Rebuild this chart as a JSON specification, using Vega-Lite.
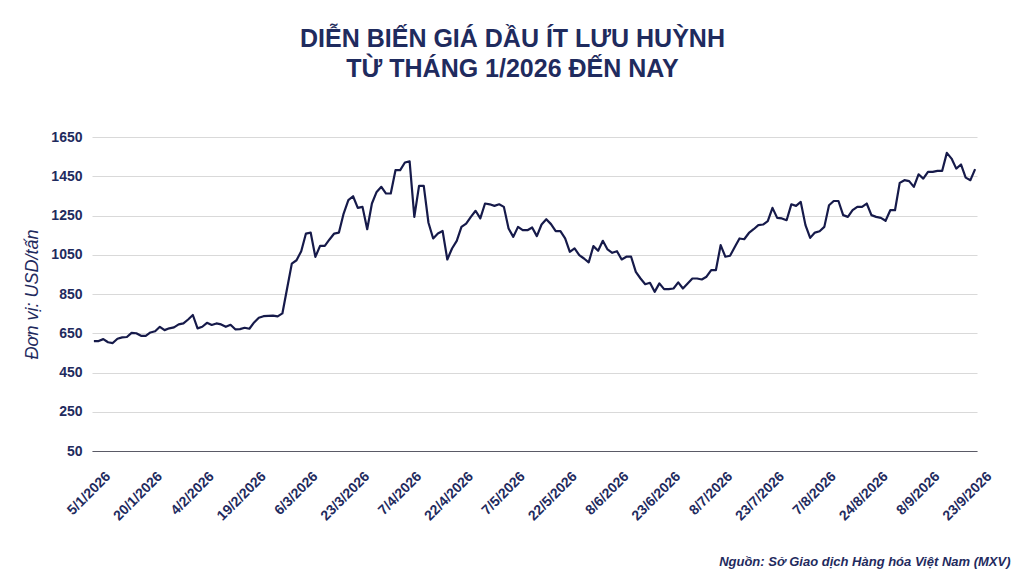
{
  "$schema": "https://vega.github.io/schema/vega-lite/v6.json",
  "autosize": {"type": "none"},
  "padding": {"left": 92, "top": 137, "right": 47, "bottom": 126},
  "width": 885,
  "height": 314,
  "background": "white",
  "title": {
    "text": ["DIỄN BIẾN GIÁ DẦU ÍT LƯU HUỲNH", "TỪ THÁNG 1/2026 ĐẾN NAY"],
    "font": "Liberation Sans",
    "fontSize": 25,
    "fontWeight": "bold",
    "color": "#1f2b5e",
    "lineHeight": 30,
    "anchor": "middle",
    "frame": "group",
    "dx": -22,
    "offset": 48
  },
  "data": {"values": [
    {"ngay": "5/1/2026", "gia": 610}, {"ngay": "6/1/2026", "gia": 610}, {"ngay": "7/1/2026", "gia": 620}, {"ngay": "8/1/2026", "gia": 604}, {"ngay": "9/1/2026", "gia": 600},
    {"ngay": "12/1/2026", "gia": 622}, {"ngay": "13/1/2026", "gia": 629}, {"ngay": "14/1/2026", "gia": 631}, {"ngay": "15/1/2026", "gia": 652}, {"ngay": "16/1/2026", "gia": 650},
    {"ngay": "19/1/2026", "gia": 637}, {"ngay": "20/1/2026", "gia": 637}, {"ngay": "21/1/2026", "gia": 654}, {"ngay": "22/1/2026", "gia": 660}, {"ngay": "23/1/2026", "gia": 683},
    {"ngay": "26/1/2026", "gia": 666}, {"ngay": "27/1/2026", "gia": 675}, {"ngay": "28/1/2026", "gia": 680}, {"ngay": "29/1/2026", "gia": 695}, {"ngay": "30/1/2026", "gia": 700},
    {"ngay": "2/2/2026", "gia": 720}, {"ngay": "3/2/2026", "gia": 743}, {"ngay": "4/2/2026", "gia": 675}, {"ngay": "5/2/2026", "gia": 683}, {"ngay": "6/2/2026", "gia": 703},
    {"ngay": "9/2/2026", "gia": 692}, {"ngay": "10/2/2026", "gia": 700}, {"ngay": "11/2/2026", "gia": 695}, {"ngay": "12/2/2026", "gia": 683}, {"ngay": "13/2/2026", "gia": 693},
    {"ngay": "16/2/2026", "gia": 670}, {"ngay": "17/2/2026", "gia": 671}, {"ngay": "18/2/2026", "gia": 678}, {"ngay": "19/2/2026", "gia": 673}, {"ngay": "20/2/2026", "gia": 705},
    {"ngay": "23/2/2026", "gia": 729}, {"ngay": "24/2/2026", "gia": 737}, {"ngay": "25/2/2026", "gia": 739}, {"ngay": "26/2/2026", "gia": 740}, {"ngay": "27/2/2026", "gia": 736},
    {"ngay": "2/3/2026", "gia": 751}, {"ngay": "3/3/2026", "gia": 878}, {"ngay": "4/3/2026", "gia": 1005}, {"ngay": "5/3/2026", "gia": 1022}, {"ngay": "6/3/2026", "gia": 1068},
    {"ngay": "9/3/2026", "gia": 1158}, {"ngay": "10/3/2026", "gia": 1163}, {"ngay": "11/3/2026", "gia": 1039}, {"ngay": "12/3/2026", "gia": 1095}, {"ngay": "13/3/2026", "gia": 1095},
    {"ngay": "16/3/2026", "gia": 1128}, {"ngay": "17/3/2026", "gia": 1158}, {"ngay": "18/3/2026", "gia": 1163}, {"ngay": "19/3/2026", "gia": 1260}, {"ngay": "20/3/2026", "gia": 1328},
    {"ngay": "23/3/2026", "gia": 1348}, {"ngay": "24/3/2026", "gia": 1289}, {"ngay": "25/3/2026", "gia": 1294}, {"ngay": "26/3/2026", "gia": 1180}, {"ngay": "27/3/2026", "gia": 1311},
    {"ngay": "30/3/2026", "gia": 1370}, {"ngay": "31/3/2026", "gia": 1396},
    {"ngay": "1/4/2026", "gia": 1362}, {"ngay": "2/4/2026", "gia": 1362}, {"ngay": "3/4/2026", "gia": 1481},
    {"ngay": "6/4/2026", "gia": 1481}, {"ngay": "7/4/2026", "gia": 1520}, {"ngay": "8/4/2026", "gia": 1526}, {"ngay": "9/4/2026", "gia": 1243}, {"ngay": "10/4/2026", "gia": 1401},
    {"ngay": "13/4/2026", "gia": 1401}, {"ngay": "14/4/2026", "gia": 1213}, {"ngay": "15/4/2026", "gia": 1133}, {"ngay": "16/4/2026", "gia": 1158}, {"ngay": "17/4/2026", "gia": 1171},
    {"ngay": "20/4/2026", "gia": 1026}, {"ngay": "21/4/2026", "gia": 1082}, {"ngay": "22/4/2026", "gia": 1121}, {"ngay": "23/4/2026", "gia": 1192}, {"ngay": "24/4/2026", "gia": 1209},
    {"ngay": "27/4/2026", "gia": 1243}, {"ngay": "28/4/2026", "gia": 1274}, {"ngay": "29/4/2026", "gia": 1235}, {"ngay": "30/4/2026", "gia": 1311},
    {"ngay": "1/5/2026", "gia": 1307},
    {"ngay": "4/5/2026", "gia": 1299}, {"ngay": "5/5/2026", "gia": 1307}, {"ngay": "6/5/2026", "gia": 1294}, {"ngay": "7/5/2026", "gia": 1184}, {"ngay": "8/5/2026", "gia": 1141},
    {"ngay": "11/5/2026", "gia": 1192}, {"ngay": "12/5/2026", "gia": 1175}, {"ngay": "13/5/2026", "gia": 1175}, {"ngay": "14/5/2026", "gia": 1189}, {"ngay": "15/5/2026", "gia": 1145},
    {"ngay": "18/5/2026", "gia": 1204}, {"ngay": "19/5/2026", "gia": 1231}, {"ngay": "20/5/2026", "gia": 1206}, {"ngay": "21/5/2026", "gia": 1170}, {"ngay": "22/5/2026", "gia": 1170},
    {"ngay": "25/5/2026", "gia": 1133}, {"ngay": "26/5/2026", "gia": 1065}, {"ngay": "27/5/2026", "gia": 1082}, {"ngay": "28/5/2026", "gia": 1048}, {"ngay": "29/5/2026", "gia": 1031},
    {"ngay": "1/6/2026", "gia": 1011}, {"ngay": "2/6/2026", "gia": 1094}, {"ngay": "3/6/2026", "gia": 1070}, {"ngay": "4/6/2026", "gia": 1121}, {"ngay": "5/6/2026", "gia": 1077},
    {"ngay": "8/6/2026", "gia": 1060}, {"ngay": "9/6/2026", "gia": 1068}, {"ngay": "10/6/2026", "gia": 1026}, {"ngay": "11/6/2026", "gia": 1040}, {"ngay": "12/6/2026", "gia": 1040},
    {"ngay": "15/6/2026", "gia": 963}, {"ngay": "16/6/2026", "gia": 929}, {"ngay": "17/6/2026", "gia": 900}, {"ngay": "18/6/2026", "gia": 907}, {"ngay": "19/6/2026", "gia": 861},
    {"ngay": "22/6/2026", "gia": 904}, {"ngay": "23/6/2026", "gia": 875}, {"ngay": "24/6/2026", "gia": 875}, {"ngay": "25/6/2026", "gia": 878}, {"ngay": "26/6/2026", "gia": 909},
    {"ngay": "29/6/2026", "gia": 878}, {"ngay": "30/6/2026", "gia": 904},
    {"ngay": "1/7/2026", "gia": 929}, {"ngay": "2/7/2026", "gia": 929}, {"ngay": "3/7/2026", "gia": 924},
    {"ngay": "6/7/2026", "gia": 938}, {"ngay": "7/7/2026", "gia": 972}, {"ngay": "8/7/2026", "gia": 972}, {"ngay": "9/7/2026", "gia": 1099}, {"ngay": "10/7/2026", "gia": 1040},
    {"ngay": "13/7/2026", "gia": 1045}, {"ngay": "14/7/2026", "gia": 1090}, {"ngay": "15/7/2026", "gia": 1133}, {"ngay": "16/7/2026", "gia": 1129}, {"ngay": "17/7/2026", "gia": 1161},
    {"ngay": "20/7/2026", "gia": 1180}, {"ngay": "21/7/2026", "gia": 1201}, {"ngay": "22/7/2026", "gia": 1204}, {"ngay": "23/7/2026", "gia": 1221}, {"ngay": "24/7/2026", "gia": 1289},
    {"ngay": "27/7/2026", "gia": 1238}, {"ngay": "28/7/2026", "gia": 1235}, {"ngay": "29/7/2026", "gia": 1226}, {"ngay": "30/7/2026", "gia": 1307}, {"ngay": "31/7/2026", "gia": 1299},
    {"ngay": "3/8/2026", "gia": 1319}, {"ngay": "4/8/2026", "gia": 1201}, {"ngay": "5/8/2026", "gia": 1136}, {"ngay": "6/8/2026", "gia": 1163}, {"ngay": "7/8/2026", "gia": 1170},
    {"ngay": "10/8/2026", "gia": 1192}, {"ngay": "11/8/2026", "gia": 1302}, {"ngay": "12/8/2026", "gia": 1324}, {"ngay": "13/8/2026", "gia": 1324}, {"ngay": "14/8/2026", "gia": 1252},
    {"ngay": "17/8/2026", "gia": 1243}, {"ngay": "18/8/2026", "gia": 1277}, {"ngay": "19/8/2026", "gia": 1294}, {"ngay": "20/8/2026", "gia": 1294}, {"ngay": "21/8/2026", "gia": 1311},
    {"ngay": "24/8/2026", "gia": 1252}, {"ngay": "25/8/2026", "gia": 1243}, {"ngay": "26/8/2026", "gia": 1238}, {"ngay": "27/8/2026", "gia": 1223}, {"ngay": "28/8/2026", "gia": 1277},
    {"ngay": "31/8/2026", "gia": 1277},
    {"ngay": "1/9/2026", "gia": 1416}, {"ngay": "2/9/2026", "gia": 1430}, {"ngay": "3/9/2026", "gia": 1425}, {"ngay": "4/9/2026", "gia": 1396},
    {"ngay": "7/9/2026", "gia": 1460}, {"ngay": "8/9/2026", "gia": 1438}, {"ngay": "9/9/2026", "gia": 1472}, {"ngay": "10/9/2026", "gia": 1472}, {"ngay": "11/9/2026", "gia": 1477},
    {"ngay": "14/9/2026", "gia": 1477}, {"ngay": "15/9/2026", "gia": 1569}, {"ngay": "16/9/2026", "gia": 1540}, {"ngay": "17/9/2026", "gia": 1489}, {"ngay": "18/9/2026", "gia": 1510},
    {"ngay": "21/9/2026", "gia": 1443}, {"ngay": "22/9/2026", "gia": 1430}, {"ngay": "23/9/2026", "gia": 1486}
  ]},
  "mark": {"type": "line", "color": "#161a4a", "strokeWidth": 2.2, "strokeJoin": "round"},
  "encoding": {
    "x": {
      "field": "ngay",
      "type": "ordinal",
      "sort": null,
      "scale": {"type": "point", "padding": 0.4},
      "axis": {
        "values": ["5/1/2026", "20/1/2026", "4/2/2026", "19/2/2026", "6/3/2026", "23/3/2026", "7/4/2026", "22/4/2026", "7/5/2026", "22/5/2026", "8/6/2026", "23/6/2026", "8/7/2026", "23/7/2026", "7/8/2026", "24/8/2026", "8/9/2026", "23/9/2026"],
        "labelAngle": -45,
        "labelAlign": "right",
        "labelBaseline": "top",
        "labelFont": "Liberation Sans",
        "labelFontSize": 14,
        "labelFontWeight": "bold",
        "labelColor": "#1f2b5e",
        "labelPadding": 18,
        "labelOffset": 9,
        "ticks": false,
        "grid": false,
        "domainColor": "#5a5a66",
        "domainWidth": 1.2,
        "title": "Nguồn: Sở Giao dịch Hàng hóa Việt Nam (MXV)",
        "titleFont": "Liberation Sans",
        "titleFontSize": 13,
        "titleFontWeight": "bold",
        "titleFontStyle": "italic",
        "titleColor": "#1f2b5e",
        "titleAnchor": "end",
        "titleAlign": "right",
        "titleBaseline": "alphabetic",
        "titleX": 918,
        "titleY": 114
      }
    },
    "y": {
      "field": "gia",
      "type": "quantitative",
      "scale": {"domain": [50, 1650], "nice": false, "zero": false},
      "axis": {
        "values": [50, 250, 450, 650, 850, 1050, 1250, 1450, 1650],
        "format": "d",
        "labelFont": "Liberation Sans",
        "labelFontSize": 14,
        "labelFontWeight": "bold",
        "labelColor": "#1f2b5e",
        "labelPadding": 10,
        "ticks": false,
        "domain": false,
        "gridColor": "#d9d9d9",
        "gridWidth": 1,
        "title": "Đơn vị: USD/tấn",
        "titleFont": "Liberation Sans",
        "titleFontSize": 18,
        "titleFontWeight": "normal",
        "titleFontStyle": "italic",
        "titleColor": "#1f2b5e",
        "titlePadding": 9
      }
    }
  },
  "config": {"view": {"stroke": null}}
}
